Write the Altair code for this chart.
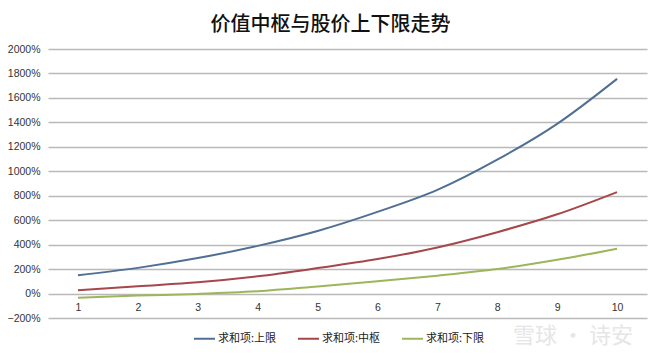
import altair as alt
import pandas as pd

periods = list(range(1, 11))
upper = [150, 210, 290, 390, 512, 668, 848, 1095, 1388, 1756]
middle = [27, 60, 92, 141, 208, 282, 377, 502, 648, 830]
lower = [-34, -17, -3, 19, 58, 100, 146, 200, 276, 367]
series_names = ["求和项:上限", "求和项:中枢", "求和项:下限"]
colors = ["#4F7094", "#A5474B", "#9CB65A"]
y_ticks = [v / 100 for v in range(-200, 2001, 200)]
title_text = "价值中枢与股价上下限走势"
watermark = "雪球 · 诗安"

rows = []
for name, vals in zip(series_names, [upper, middle, lower]):
    for p, v in zip(periods, vals):
        rows.append({"期": p, "值": v / 100, "系列": name})
df = pd.DataFrame(rows)

FONT = "Noto Sans CJK SC"
NUMFONT = "Liberation Sans"

lines = alt.Chart(df).mark_line(interpolate="monotone", strokeWidth=2).encode(
    x=alt.X("期:Q",
            scale=alt.Scale(domain=[0.5, 10.5], nice=False, zero=False),
            axis=alt.Axis(values=periods, format="d", title=None, grid=False,
                          domain=False, ticks=False, offset=-24,
                          labelFontSize=10.5, labelColor="#333333",
                          labelPadding=8, labelFont=NUMFONT)),
    y=alt.Y("值:Q",
            scale=alt.Scale(domain=[-2, 20], nice=False),
            axis=alt.Axis(values=y_ticks, format=".0%", title=None,
                          domain=False, ticks=False, labelPadding=8,
                          labelFontSize=10.5, labelColor="#333333",
                          labelFont=NUMFONT,
                          gridColor="#B9B9B9", gridWidth=1.4)),
    color=alt.Color("系列:N",
                    scale=alt.Scale(domain=series_names, range=colors),
                    legend=alt.Legend(title=None, orient="none",
                                      direction="horizontal",
                                      legendX=145, legendY=278,
                                      symbolType="stroke",
                                      symbolSize=440,
                                      symbolStrokeWidth=2,
                                      labelFontSize=11,
                                      labelFont=FONT,
                                      labelColor="#222222",
                                      labelOffset=2,
                                      columnPadding=17)),
    order=alt.Order("期:Q"),
)

wm = alt.Chart(pd.DataFrame({"t": [watermark]})).mark_text(
    font=FONT, fontSize=22, color="#E0E0E0", opacity=0.8, align="center"
).encode(x=alt.value(525), y=alt.value(287), text="t:N")

chart = alt.layer(lines, wm).properties(
    width=599,
    height=269,
    title=alt.TitleParams(title_text, fontSize=20, font=FONT,
                          fontWeight=500, color="#111111",
                          anchor="middle", dx=-17, offset=9),
    autosize=alt.AutoSizeParams(type="none"),
    padding={"left": 40, "top": 41, "right": 5, "bottom": 30},
).configure_view(stroke=None)

chart.save("out.html", embed_options={"renderer": "svg", "actions": False})
